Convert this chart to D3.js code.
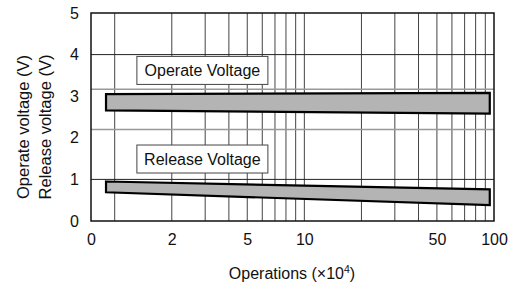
<!DOCTYPE html>
<html>
<head>
<meta charset="utf-8">
<script src="https://cdn.jsdelivr.net/npm/d3@7/dist/d3.min.js"></script>
<style>
  html, body { margin: 0; padding: 0; background: #fff; }
  svg { display: block; font-family: "Liberation Sans", Arial, sans-serif; }
</style>
</head>
<body>
<script>
// ---- data ----
const xTickValues = [0.75, 2, 5, 10, 50, 100];
const xTickLabels = ["0", "2", "5", "10", "50", "100"];
const xGridValues = [1, 2, 3, 4, 5, 6, 7, 8, 9, 10, 20, 30, 40, 50, 60, 70, 80, 90];
const yTickValues = [0, 1, 2, 3, 4, 5];
const yGridDark = [1, 4];
const yGridLight = [2.2, 3.17];
const bandX = [0.9, 95];
const operateUpper = [3.05, 3.08];
const operateLower = [2.66, 2.58];
const releaseUpper = [0.95, 0.76];
const releaseLower = [0.69, 0.38];
const seriesNames = ["Operate Voltage", "Release Voltage"];
const labelAnchors = [[2.9, 3.62], [2.9, 1.49]]; // [x value, y value] of label box centre

const W = 512, H = 291;
const margin = { left: 91, right: 18, top: 13, bottom: 70 };
const FS = 16;

const svg = d3.select("body").append("svg").attr("width", W).attr("height", H);

const x = d3.scaleLog().domain([0.75, 100]).range([margin.left, W - margin.right]);
const y = d3.scaleLinear().domain([0, 5]).range([H - margin.bottom, margin.top]);

// vertical grid
svg.append("g").selectAll("line").data(xGridValues).join("line")
  .attr("x1", d => x(d)).attr("x2", d => x(d))
  .attr("y1", y(0)).attr("y2", y(5))
  .attr("stroke", "#444").attr("stroke-width", 1);

// horizontal grid
svg.append("g").selectAll("line").data(yGridDark).join("line")
  .attr("x1", x.range()[0]).attr("x2", x.range()[1])
  .attr("y1", d => y(d)).attr("y2", d => y(d))
  .attr("stroke", "#222").attr("stroke-width", 1);
svg.append("g").selectAll("line").data(yGridLight).join("line")
  .attr("x1", x.range()[0]).attr("x2", x.range()[1])
  .attr("y1", d => y(d)).attr("y2", d => y(d))
  .attr("stroke", "#999").attr("stroke-width", 1.5);

// bands
function bandPoints(upper, lower) {
  const pts = [];
  bandX.forEach((v, i) => pts.push([x(v), y(upper[i])]));
  for (let i = bandX.length - 1; i >= 0; i--) pts.push([x(bandX[i]), y(lower[i])]);
  return pts;
}
const bands = [bandPoints(operateUpper, operateLower), bandPoints(releaseUpper, releaseLower)];
svg.append("g").selectAll("polygon").data(bands).join("polygon")
  .attr("points", d => d.map(p => p.join(",")).join(" "))
  .attr("fill", "#b4b4b4").attr("stroke", "#000").attr("stroke-width", 2.2)
  .attr("stroke-linejoin", "miter");

// label boxes
const lab = svg.append("g").selectAll("g").data(seriesNames).join("g")
  .attr("transform", (d, i) => `translate(${x(labelAnchors[i][0])},${y(labelAnchors[i][1])})`);
lab.append("rect")
  .attr("x", -65.5).attr("y", -14).attr("width", 131).attr("height", 28)
  .attr("fill", "#fff").attr("stroke", "#444").attr("stroke-width", 1);
lab.append("text").text(d => d)
  .attr("text-anchor", "middle").attr("dy", "0.36em")
  .attr("font-size", FS).attr("fill", "#111");

// frame
svg.append("rect")
  .attr("x", x.range()[0]).attr("y", y(5))
  .attr("width", x.range()[1] - x.range()[0]).attr("height", y(0) - y(5))
  .attr("fill", "none").attr("stroke", "#111").attr("stroke-width", 1.5);

// axes (labels only)
const xAxis = d3.axisBottom(x).tickValues(xTickValues)
  .tickFormat((d, i) => xTickLabels[i]).tickSize(0).tickPadding(13);
const gx = svg.append("g").attr("transform", `translate(0,${y(0)})`).call(xAxis);
gx.select(".domain").remove();
gx.selectAll("text").attr("font-size", FS).attr("fill", "#111").attr("font-family", "Liberation Sans, Arial, sans-serif");

const yAxis = d3.axisLeft(y).tickValues(yTickValues).tickFormat(d3.format("d"))
  .tickSize(0).tickPadding(12);
const gy = svg.append("g").attr("transform", `translate(${x.range()[0]},0)`).call(yAxis);
gy.select(".domain").remove();
gy.selectAll("text").attr("font-size", FS).attr("fill", "#111").attr("font-family", "Liberation Sans, Arial, sans-serif");

// axis titles
const xt = svg.append("text").attr("x", 292).attr("y", 279)
  .attr("text-anchor", "middle").attr("font-size", FS).attr("fill", "#111");
xt.append("tspan").text("Operations (×10");
xt.append("tspan").text("4").attr("font-size", 10.5).attr("dy", -6);
xt.append("tspan").text(")").attr("dy", 6);

const yt = svg.append("text").attr("transform", "translate(0,127) rotate(-90)")
  .attr("text-anchor", "middle").attr("font-size", 16.5).attr("fill", "#111");
yt.append("tspan").text("Operate voltage (V)").attr("x", 0).attr("y", 28.5);
yt.append("tspan").text("Release voltage (V)").attr("x", 0).attr("y", 51);
</script>
</body>
</html>
